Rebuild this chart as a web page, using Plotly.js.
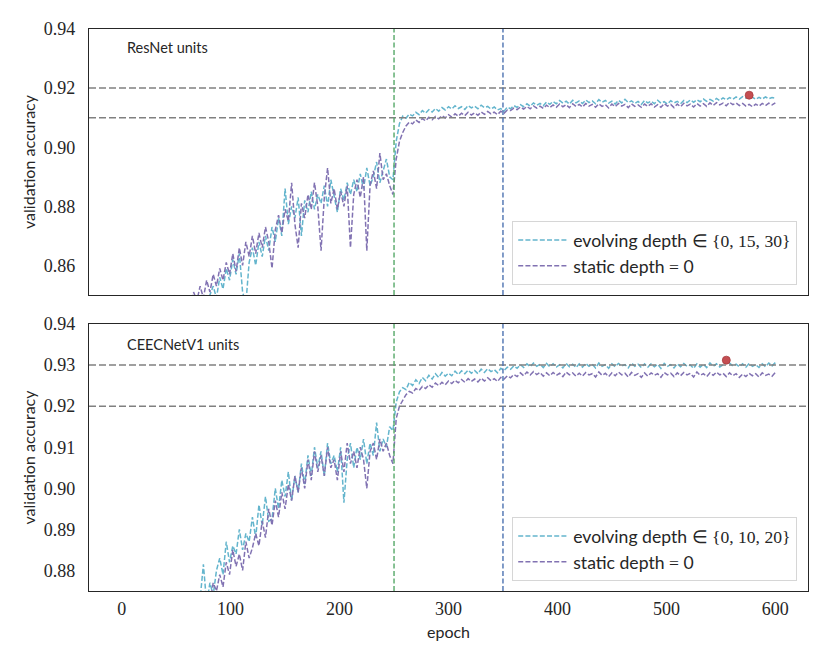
<!DOCTYPE html>
<html>
<head>
<meta charset="utf-8">
<script src="https://cdn.plot.ly/plotly-3.0.1.min.js"></script>
<style>
  html, body { margin: 0; padding: 0; background: #fff; }
  #chart { width: 830px; height: 664px; }
</style>
</head>
<body>
<div id="chart"></div>
<script>
// epochs sampled every 3, from 63 to 600
let firstEpoch = 63, epochStep = 3;

// ResNet units (top panel)
let resEvolving = [
  0.840, 0.843, 0.846, 0.842, 0.848, 0.845, 0.850, 0.853, 0.849, 0.856,
  0.852, 0.859, 0.855, 0.862, 0.857, 0.864, 0.851, 0.847, 0.861, 0.866,
  0.860, 0.868, 0.863, 0.870, 0.865, 0.873, 0.868, 0.876, 0.870, 0.886,
  0.874, 0.880, 0.876, 0.883, 0.870, 0.882, 0.878, 0.885, 0.879, 0.884,
  0.881, 0.887, 0.880, 0.889, 0.883, 0.878, 0.886, 0.882, 0.888, 0.884,
  0.889, 0.885, 0.891, 0.886, 0.893, 0.887, 0.890, 0.895, 0.888, 0.892,
  0.896, 0.890, 0.889, 0.902, 0.908, 0.9105, 0.9098, 0.9112, 0.9106, 0.9118,
  0.9110, 0.9124, 0.9115, 0.9127, 0.9119, 0.9131, 0.9122, 0.9134, 0.9126, 0.9137,
  0.9129, 0.9140, 0.9131, 0.9137, 0.9128, 0.9141, 0.9133, 0.9139, 0.9130, 0.9142,
  0.9134, 0.9138, 0.9129, 0.9136, 0.9126, 0.9131, 0.9122, 0.9136, 0.9130, 0.9141,
  0.9135, 0.9144, 0.9137, 0.9147, 0.9139, 0.9150, 0.9142, 0.9148, 0.9140, 0.9153,
  0.9145, 0.9155, 0.9147, 0.9158, 0.9149, 0.9156, 0.9146, 0.9159, 0.9150, 0.9157,
  0.9148, 0.9160, 0.9151, 0.9157, 0.9147, 0.9161, 0.9152, 0.9158, 0.9149, 0.9156,
  0.9146, 0.9159, 0.9150, 0.9162, 0.9151, 0.9157, 0.9148, 0.9155, 0.9145, 0.9158,
  0.9150, 0.9156, 0.9147, 0.9159, 0.9149, 0.9154, 0.9146, 0.9157, 0.9150, 0.9155,
  0.9147, 0.9158, 0.9151, 0.9160, 0.9152, 0.9161, 0.9154, 0.9163, 0.9155, 0.9162,
  0.9156, 0.9165, 0.9158, 0.9167, 0.9160, 0.9168, 0.9162, 0.9170, 0.9163, 0.9171,
  0.9166, 0.9176, 0.9168, 0.9162, 0.9169, 0.9163, 0.9170, 0.9164, 0.9168, 0.9166
];
let resStatic = [
  0.846, 0.851, 0.848, 0.853, 0.849, 0.855, 0.851, 0.857, 0.853, 0.859,
  0.855, 0.861, 0.857, 0.864, 0.858, 0.866, 0.860, 0.868, 0.863, 0.870,
  0.864, 0.871, 0.866, 0.873, 0.868, 0.859, 0.872, 0.877, 0.871, 0.879,
  0.875, 0.888, 0.874, 0.866, 0.881, 0.876, 0.884, 0.879, 0.888, 0.880,
  0.865, 0.883, 0.893, 0.881, 0.886, 0.879, 0.885, 0.880, 0.887, 0.866,
  0.884, 0.889, 0.883, 0.890, 0.865, 0.887, 0.892, 0.886, 0.898, 0.889,
  0.891, 0.887, 0.884, 0.896, 0.902, 0.905, 0.9072, 0.9085, 0.9079, 0.9092,
  0.9084, 0.9097, 0.9089, 0.9101, 0.9093, 0.9104, 0.9096, 0.9107, 0.9099, 0.9110,
  0.9102, 0.9113, 0.9105, 0.9115, 0.9107, 0.9118, 0.9109, 0.9116, 0.9108, 0.9119,
  0.9111, 0.9121, 0.9113, 0.9119, 0.9110, 0.9122, 0.9115, 0.9126, 0.9124, 0.9132,
  0.9127, 0.9136, 0.9129, 0.9138, 0.9130, 0.9140, 0.9132, 0.9139, 0.9131, 0.9142,
  0.9134, 0.9143, 0.9135, 0.9146, 0.9137, 0.9144, 0.9134, 0.9147, 0.9138, 0.9145,
  0.9136, 0.9148, 0.9139, 0.9145, 0.9135, 0.9147, 0.9138, 0.9144, 0.9133, 0.9146,
  0.9137, 0.9148, 0.9139, 0.9145, 0.9134, 0.9147, 0.9138, 0.9143, 0.9135, 0.9146,
  0.9138, 0.9147, 0.9136, 0.9144, 0.9135, 0.9148, 0.9139, 0.9145, 0.9134, 0.9146,
  0.9137, 0.9149, 0.9140, 0.9146, 0.9136, 0.9148, 0.9139, 0.9147, 0.9138, 0.9150,
  0.9141, 0.9151, 0.9143, 0.9149, 0.9140, 0.9152, 0.9144, 0.9150, 0.9141, 0.9148,
  0.9139, 0.9145, 0.9137, 0.9146, 0.9139, 0.9148, 0.9141, 0.9149, 0.9143, 0.9150
];

// CEECNetV1 units (bottom panel)
let ceecEvolving = [
  0.866, 0.870, 0.868, 0.873, 0.8815, 0.872, 0.877, 0.874, 0.880, 0.883,
  0.879, 0.887, 0.882, 0.886, 0.884, 0.890, 0.885, 0.889, 0.887, 0.893,
  0.888, 0.896, 0.891, 0.898, 0.892, 0.8925, 0.900, 0.895, 0.902, 0.898,
  0.904, 0.897, 0.903, 0.899, 0.906, 0.901, 0.908, 0.903, 0.910, 0.905,
  0.909, 0.903, 0.911, 0.906, 0.908, 0.904, 0.910, 0.8965, 0.907, 0.911,
  0.905, 0.910, 0.907, 0.912, 0.906, 0.911, 0.908, 0.916, 0.909, 0.912,
  0.910, 0.915, 0.914, 0.921, 0.9235, 0.9245, 0.9240, 0.9258, 0.9250, 0.9264,
  0.9255, 0.9270, 0.9262, 0.9275, 0.9266, 0.9279, 0.9270, 0.9282, 0.9273, 0.9280,
  0.9274, 0.9285, 0.9277, 0.9286, 0.9279, 0.9288, 0.9280, 0.9287, 0.9279, 0.9290,
  0.9282, 0.9291, 0.9284, 0.9289, 0.9281, 0.9292, 0.9287, 0.9295, 0.9290, 0.9298,
  0.9292, 0.9301, 0.9294, 0.9303, 0.9296, 0.9305, 0.9297, 0.9302, 0.9294, 0.9304,
  0.9296, 0.9303, 0.9295, 0.9301, 0.9293, 0.9304, 0.9296, 0.9302, 0.9294, 0.9303,
  0.9295, 0.9304, 0.9297, 0.9302, 0.9293, 0.9305, 0.9297, 0.9301, 0.9292, 0.9303,
  0.9296, 0.9304, 0.9298, 0.9301, 0.9293, 0.9305, 0.9297, 0.9302, 0.9294, 0.9303,
  0.9295, 0.9303, 0.9296, 0.9302, 0.9292, 0.9304, 0.9297, 0.9301, 0.9293, 0.9303,
  0.9296, 0.9304, 0.9297, 0.9300, 0.9292, 0.9303, 0.9295, 0.9302, 0.9294, 0.9305,
  0.9297, 0.9303, 0.9295, 0.9301, 0.9312, 0.9304, 0.9298, 0.9302, 0.9296, 0.9303,
  0.9295, 0.9304, 0.9297, 0.9301, 0.9294, 0.9303, 0.9296, 0.9305, 0.9298, 0.9306
];
let ceecStatic = [
  0.864, 0.868, 0.866, 0.871, 0.869, 0.874, 0.872, 0.877, 0.875, 0.879,
  0.876, 0.882, 0.879, 0.885, 0.881, 0.884, 0.880, 0.887, 0.883, 0.8855,
  0.889, 0.886, 0.892, 0.888, 0.895, 0.891, 0.897, 0.893, 0.899, 0.895,
  0.901, 0.897, 0.903, 0.899, 0.905, 0.900, 0.907, 0.902, 0.909, 0.904,
  0.908, 0.903, 0.910, 0.905, 0.907, 0.902, 0.909, 0.904, 0.911, 0.906,
  0.909, 0.905, 0.910, 0.907, 0.900, 0.909, 0.911, 0.907, 0.912, 0.909,
  0.911, 0.908, 0.906, 0.917, 0.920, 0.9215, 0.9228, 0.9236, 0.9232, 0.9243,
  0.9238, 0.9248, 0.9243, 0.9252, 0.9246, 0.9256, 0.9250, 0.9258, 0.9252, 0.9261,
  0.9255, 0.9263, 0.9257, 0.9265, 0.9258, 0.9267, 0.9260, 0.9266, 0.9259, 0.9268,
  0.9261, 0.9269, 0.9262, 0.9267, 0.9260, 0.9270, 0.9266, 0.9274, 0.9269, 0.9277,
  0.9272, 0.9281, 0.9274, 0.9283, 0.9276, 0.9284, 0.9277, 0.9282, 0.9273, 0.9281,
  0.9274, 0.9282, 0.9275, 0.9280, 0.9272, 0.9283, 0.9276, 0.9281, 0.9273, 0.9280,
  0.9273, 0.9282, 0.9276, 0.9279, 0.9271, 0.9283, 0.9275, 0.9280, 0.9272, 0.9281,
  0.9274, 0.9283, 0.9276, 0.9280, 0.9271, 0.9282, 0.9275, 0.9279, 0.9270, 0.9281,
  0.9273, 0.9281, 0.9275, 0.9279, 0.9270, 0.9282, 0.9276, 0.9280, 0.9272, 0.9281,
  0.9274, 0.9282, 0.9276, 0.9280, 0.9271, 0.9283, 0.9275, 0.9279, 0.9272, 0.9281,
  0.9275, 0.9283, 0.9276, 0.9280, 0.9272, 0.9281, 0.9274, 0.9279, 0.9270, 0.9278,
  0.9272, 0.9280, 0.9274, 0.9279, 0.9271, 0.9281, 0.9275, 0.9278, 0.9273, 0.9282
];

let phaseEpochs = [250, 350];          // green, blue vertical markers
let resRefLevels = [0.92, 0.91];
let ceecRefLevels = [0.93, 0.92];
let xTicks = [0, 100, 200, 300, 400, 500, 600];
let resYTicks = [0.86, 0.88, 0.90, 0.92, 0.94];
let ceecYTicks = [0.88, 0.89, 0.90, 0.91, 0.92, 0.93, 0.94];

let cyan = '#64b5cd', purple = '#8172b2', red = '#c44e52';
let serif = 'Liberation Serif, DejaVu Serif, serif';
let sans = 'Lato, Open Sans, sans-serif';

let epochs = resEvolving.map((_, i) => firstEpoch + i * epochStep);

function argmax(arr) {
  let best = 0;
  for (let i = 1; i < arr.length; i++) if (arr[i] > arr[best]) best = i;
  return best;
}

function seriesTrace(y, color, name, xa, ya, legend) {
  return {
    x: epochs, y: y, name: name, mode: 'lines',
    xaxis: xa, yaxis: ya, legend: legend,
    line: { color: color, width: 1.5, dash: '5px,2.2px' }
  };
}

function bestMarker(y, xa, ya) {
  let i = argmax(y);
  return {
    x: [epochs[i]], y: [y[i]], mode: 'markers', showlegend: false,
    xaxis: xa, yaxis: ya,
    marker: { color: red, size: 8, line: { color: '#a83c40', width: 0.8 } }
  };
}

let mathSpan = s => '<span style="font-family:Liberation Serif">' + s + '</span>';

let traces = [
  seriesTrace(resEvolving, cyan, 'evolving depth ' + mathSpan('∈ {0, 15, 30}'), 'x2', 'y2', 'legend2'),
  seriesTrace(resStatic, purple, 'static depth ' + mathSpan('=') + ' 0', 'x2', 'y2', 'legend2'),
  bestMarker(resEvolving, 'x2', 'y2'),
  seriesTrace(ceecEvolving, cyan, 'evolving depth ' + mathSpan('∈ {0, 10, 20}'), 'x', 'y', 'legend'),
  seriesTrace(ceecStatic, purple, 'static depth ' + mathSpan('=') + ' 0', 'x', 'y', 'legend'),
  bestMarker(ceecEvolving, 'x', 'y')
];

let shapes = [];
function addLines(xa, ya, levels) {
  levels.forEach(v => shapes.push({
    type: 'line', xref: xa + ' domain', yref: ya, x0: 0, x1: 1, y0: v, y1: v,
    line: { color: '#808080', width: 1.5, dash: '7px,3px' }, layer: 'above'
  }));
  phaseEpochs.forEach((e, k) => shapes.push({
    type: 'line', xref: xa, yref: ya + ' domain', x0: e, x1: e, y0: 0, y1: 1,
    line: { color: k === 0 ? '#55a868' : '#4c72b0', width: 1.4, dash: '5px,2.5px' }, layer: 'above'
  }));
}
addLines('x2', 'y2', resRefLevels);
addLines('x', 'y', ceecRefLevels);

let tickFont = { family: serif, size: 18, color: '#262626' };
let titleFont = { family: sans, size: 16, color: '#262626' };

let frame = { showline: true, mirror: true, linecolor: '#262626', linewidth: 1.25,
  showgrid: false, zeroline: false, ticks: '', tickfont: tickFont };

let legendStyle = {
  font: { family: sans, size: 17.6, color: '#262626' },
  bgcolor: 'rgba(255,255,255,0.85)', bordercolor: '#d6d6d6', borderwidth: 1,
  xanchor: 'right', yanchor: 'bottom', x: 0.985, tracegroupgap: 0, itemwidth: 50
};

let layout = {
  width: 830, height: 664,
  margin: { l: 89, r: 22, t: 29, b: 73 },
  paper_bgcolor: '#fff', plot_bgcolor: '#fff',
  font: { family: serif, size: 18, color: '#262626' },
  xaxis: Object.assign({}, frame, {
    anchor: 'y', range: [-30, 630], tickvals: xTicks, ticklabelstandoff: 1,
    title: { text: 'epoch', font: titleFont, standoff: 9 }
  }),
  yaxis: Object.assign({}, frame, {
    anchor: 'x', domain: [0, 0.4751], range: [0.875, 0.94],
    tickvals: ceecYTicks, tickformat: '.2f', ticklabelstandoff: 9,
    title: { text: 'validation accuracy', font: titleFont, standoff: 4 }
  }),
  xaxis2: Object.assign({}, frame, {
    anchor: 'y2', matches: 'x', range: [-30, 630], tickvals: xTicks, showticklabels: false
  }),
  yaxis2: Object.assign({}, frame, {
    anchor: 'x2', domain: [0.5267, 1], range: [0.85, 0.94],
    tickvals: resYTicks, tickformat: '.2f', ticklabelstandoff: 9,
    title: { text: 'validation accuracy', font: titleFont, standoff: 4 }
  }),
  legend: Object.assign({}, legendStyle, { y: 0.0178 }),
  legend2: Object.assign({}, legendStyle, { y: 0.5445 }),
  shapes: shapes,
  annotations: [
    { text: 'ResNet units', xref: 'x2 domain', yref: 'y2 domain', x: 0.05, y: 0.93,
      xanchor: 'left', yanchor: 'middle', showarrow: false, font: { family: sans, size: 14.5, color: '#262626' } },
    { text: 'CEECNetV1 units', xref: 'x domain', yref: 'y domain', x: 0.05, y: 0.925,
      xanchor: 'left', yanchor: 'middle', showarrow: false, font: { family: sans, size: 14.5, color: '#262626' } }
  ],
  showlegend: true
};

Plotly.newPlot('chart', traces, layout, { displayModeBar: false, staticPlot: true });
</script>
</body>
</html>
